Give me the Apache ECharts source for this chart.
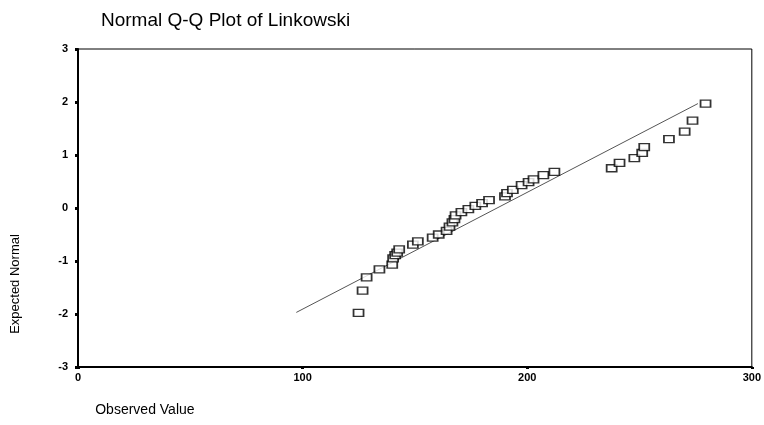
<!DOCTYPE html>
<html>
<head>
<meta charset="utf-8">
<script src="https://cdn.jsdelivr.net/npm/echarts@6/dist/echarts.min.js"></script>
<style>
  html, body { margin: 0; padding: 0; background: #fff; }
  #chart { width: 764px; height: 425px; }
</style>
</head>
<body>
<div id="chart"></div>
<script>
const observed = [
  124.9, 126.7, 128.5, 134.2, 139.9, 140.3, 141.2, 142.1, 143.0, 149.1,
  151.3, 157.9, 160.6, 164.1, 165.4, 166.7, 167.6, 168.1, 170.7, 173.8,
  176.9, 179.9, 183.0, 190.1, 191.0, 193.6, 197.5, 200.6, 202.8, 207.2,
  212.1, 237.6, 241.1, 247.7, 251.2, 252.1, 263.1, 270.1, 273.6, 279.4
]
const expected = [
  -1.98, -1.56, -1.31, -1.16, -1.07, -0.95, -0.89, -0.84, -0.78, -0.69,
  -0.63, -0.56, -0.50, -0.43, -0.35, -0.27, -0.21, -0.14, -0.08, -0.02,
  0.04, 0.09, 0.15, 0.22, 0.28, 0.34, 0.43, 0.49, 0.54, 0.62,
  0.68, 0.75, 0.85, 0.94, 1.04, 1.15, 1.30, 1.44, 1.65, 1.97
]
// reference line ends
const lineX = [97.2, 276.0]
const lineY = [-1.97, 1.97]

const xTicks = [0, 100, 200, 300]
const yTicks = [-3, -2, -1, 0, 1, 2, 3]

const chart = echarts.init(document.getElementById('chart'))

const points = observed.map((v, i) => [v, expected[i]])
const refLine = lineX.map((v, i) => [v, lineY[i]])

const font = 'Liberation Sans, Arial, sans-serif'

const option = {
  backgroundColor: '#ffffff',
  animation: false,
  title: {
    text: 'Normal Q-Q Plot of Linkowski',
    left: 96,
    top: 6,
    textStyle: {
      fontFamily: font,
      fontSize: 19,
      fontWeight: 'normal',
      color: '#000'
    }
  },
  grid: {
    left: 78,
    right: 5,
    top: 49,
    bottom: 58,
    show: true,
    borderColor: '#000',
    borderWidth: 1
  },
  xAxis: {
    type: 'value',
    min: xTicks[0],
    max: xTicks[xTicks.length - 1],
    interval: 100,
    name: 'Observed Value',
    nameLocation: 'middle',
    nameGap: 36,
    nameTextStyle: {
      fontFamily: font,
      fontSize: 14,
      color: '#000',
      padding: [0, 540, 0, 0]
    },
    axisLine: { show: true, onZero: false, lineStyle: { color: '#000', width: 2 } },
    axisTick: { show: true, inside: false, length: 2, lineStyle: { color: '#000', width: 3 } },
    axisLabel: {
      margin: 5,
      fontFamily: font,
      fontSize: 11,
      fontWeight: 'bold',
      color: '#000'
    },
    splitLine: { show: false }
  },
  yAxis: {
    type: 'value',
    min: yTicks[0],
    max: yTicks[yTicks.length - 1],
    interval: 1,
    name: 'Expected Normal',
    nameLocation: 'middle',
    nameRotate: 90,
    nameGap: 56,
    nameTextStyle: {
      fontFamily: font,
      fontSize: 13,
      color: '#000',
      padding: [0, 152, 0, 0]
    },
    axisLine: { show: true, onZero: false, lineStyle: { color: '#000', width: 2 } },
    axisTick: { show: true, inside: false, length: 3, lineStyle: { color: '#000', width: 3 } },
    axisLabel: {
      margin: 10,
      fontFamily: font,
      fontSize: 11,
      fontWeight: 'bold',
      color: '#000'
    },
    splitLine: { show: false }
  },
  series: [
    {
      type: 'line',
      data: refLine,
      symbol: 'none',
      lineStyle: { color: '#555', width: 1 },
      z: 1
    },
    {
      type: 'scatter',
      data: points,
      symbol: 'rect',
      symbolSize: [10, 7],
      itemStyle: {
        color: '#fff',
        borderColor: '#000',
        borderWidth: 1.5
      },
      z: 2
    }
  ]
}

chart && chart.setOption(option)
</script>
</body>
</html>
